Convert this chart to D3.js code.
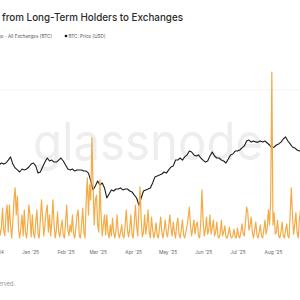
<!DOCTYPE html>
<html><head><meta charset="utf-8">
<script src="https://cdn.jsdelivr.net/npm/d3@7"></script>
<style>
html,body{margin:0;padding:0;background:#fff;overflow:hidden;}
svg{display:block;font-family:Inter,"Open Sans",sans-serif;}
</style></head>
<body>
<svg id="c" width="300" height="300"></svg>
<script>
// ---- data ----
const titleText = "from Long-Term Holders to Exchanges";
const legendLabels = ["Transfer Volume from LTH to Exchange - All Exchanges [BTC]", "BTC: Price [USD]"];
const footerText = "© 2025 Glassnode. All Rights Reserved.";
const watermark = "glassnode";
const priceStart = "2024-12-05"; // every 2 days
const priceValues = [100000,101100,100500,101100,102700,104400,100500,98400,97300,96200,97800,97300,97800,98900,100500,101100,99500,95600,96200,98900,101600,103800,102200,102700,101600,101600,102700,103800,102200,100000,97800,97300,97800,96700,97300,97300,97300,96700,96700,95600,91300,86400,88500,91300,89100,90200,87500,82000,84200,86400,85800,86900,86900,87500,86400,86900,86900,85800,85300,83600,82000,78200,82000,85800,86400,86900,87500,90200,93500,94000,94500,95100,96200,95600,97300,98900,99500,102700,102700,103800,102700,104400,105500,107600,107100,105500,104900,105500,103800,102700,101600,102200,104900,107100,104900,103800,103800,102700,102200,101100,103300,105500,106000,107600,107600,108200,109300,110400,113100,113600,112500,113100,112500,112500,113100,112500,113100,112000,110900,109300,109800,110900,111500,112500,114200,115300,113100,111500,109800,109300,108200,107600,108200];
const flowStart = "2024-12-05"; // daily
const flowValues = [950,360,770,1950,650,300,1540,2130,530,2130,950,180,1120,2430,3140,1540,2660,650,180,770,1540,300,1840,530,180,950,2130,1540,240,1540,470,180,1120,1840,410,180,1240,2430,1360,300,950,1720,2130,530,1540,300,1120,2430,950,180,650,1720,530,240,770,1240,360,180,1120,2130,650,300,950,530,1540,410,180,770,1540,1840,300,180,950,1950,530,180,2430,3730,1540,3320,2430,6100,3320,950,2430,2720,950,530,3610,1540,300,950,1540,360,1540,530,180,950,300,1360,530,180,650,1540,470,180,530,950,300,180,950,1840,650,240,770,1540,410,180,1120,2130,890,300,1840,3200,1240,240,530,1540,410,950,1840,530,180,1420,650,180,530,1070,300,180,770,1420,530,180,650,1240,470,240,890,1540,770,300,1120,530,180,950,1360,410,180,650,1240,360,180,530,890,1360,2010,950,300,770,1240,410,950,1120,300,180,1120,3020,1240,300,650,1420,410,650,1540,410,770,1240,300,530,1120,240,180,470,1240,300,530,890,240,180,410,830,300,180,300,710,240,180,770,300,180,530,1010,410,300,1120,2010,1720,650,890,1420,530,180,650,1120,360,180,530,950,300,180,650,1240,410,770,1840,950,2430,10000,950,1660,410,530,1240,300,180,530,1120,300,180,650,1010,300,180,1540,3140,1540,410,950,1660,530,180,1240,1840];
const tickMonths = ["2024-12-01","2025-01-01","2025-02-01","2025-03-01","2025-04-01","2025-05-01","2025-06-01","2025-07-01","2025-08-01","2025-09-01"];

// ---- build ----
const parse = d3.utcParse("%Y-%m-%d");
const dayMs = 86400000;
const priceData = priceValues.map((v,i)=>({date:new Date(parse(priceStart).getTime()+i*2*dayMs), v}));
const flowData = flowValues.map((v,i)=>({date:new Date(parse(flowStart).getTime()+i*dayMs), v}));

const svg = d3.select("#c");
const x = d3.scaleUtc().domain([parse("2024-12-01"), parse("2025-09-01")]).range([-5.5, 308.5]);
const yPrice = d3.scaleLinear().domain([70000,130000]).range([220,110]);
const yFlow = d3.scaleLinear().domain([0,10000]).range([241,72]);

// gridline
svg.append("line").attr("x1",0).attr("x2",300).attr("y1",90).attr("y2",90)
  .attr("stroke","#f3f3f3").attr("stroke-width",1);

// watermark
svg.append("text").attr("x",33).attr("y",160).text(watermark)
  .attr("font-family","Inter, 'Open Sans', sans-serif").attr("font-weight",400)
  .attr("font-size",52).attr("fill","#eeeeee")
  .attr("textLength",230).attr("lengthAdjust","spacingAndGlyphs");

// title
svg.append("text").attr("x",2).attr("y",21).text(titleText)
  .attr("font-size",10.5).attr("font-weight",500).attr("fill","#2b2b2b")
  .attr("textLength",181).attr("lengthAdjust","spacingAndGlyphs");

// legend
svg.append("text").attr("x",52).attr("y",37.5).attr("text-anchor","end").text(legendLabels[0])
  .attr("font-size",4.6).attr("fill","#555");
svg.append("circle").attr("cx",66).attr("cy",36).attr("r",1.3).attr("fill","#111");
svg.append("text").attr("x",68.5).attr("y",37.5).text(legendLabels[1])
  .attr("font-size",4.6).attr("fill","#555");

// lines
const lineP = d3.line().x(d=>x(d.date)).y(d=>yPrice(d.v));
const lineF = d3.line().x(d=>x(d.date)).y(d=>yFlow(d.v));
svg.append("path").datum(priceData).attr("d",lineP).attr("fill","none")
  .attr("stroke","#1c1c1c").attr("stroke-width",1.1).attr("stroke-linejoin","round");
svg.append("path").datum(flowData).attr("d",lineF).attr("fill","none")
  .attr("stroke","#f4aa45").attr("stroke-width",1.2).attr("stroke-linejoin","round");

// x axis
const ax = d3.axisBottom(x).tickValues(tickMonths.map(parse))
  .tickFormat(d3.utcFormat("%b '%y")).tickSize(0).tickPadding(0);
const g = svg.append("g").attr("transform","translate(0,251)").call(ax);
g.select(".domain").remove();
g.selectAll("text").attr("font-size",4.8).attr("fill","#666").attr("font-family","Inter, sans-serif");

// footer
svg.append("text").attr("x",15).attr("y",286).attr("text-anchor","end").text(footerText)
  .attr("font-size",5.5).attr("fill","#999");
</script>
</body></html>
